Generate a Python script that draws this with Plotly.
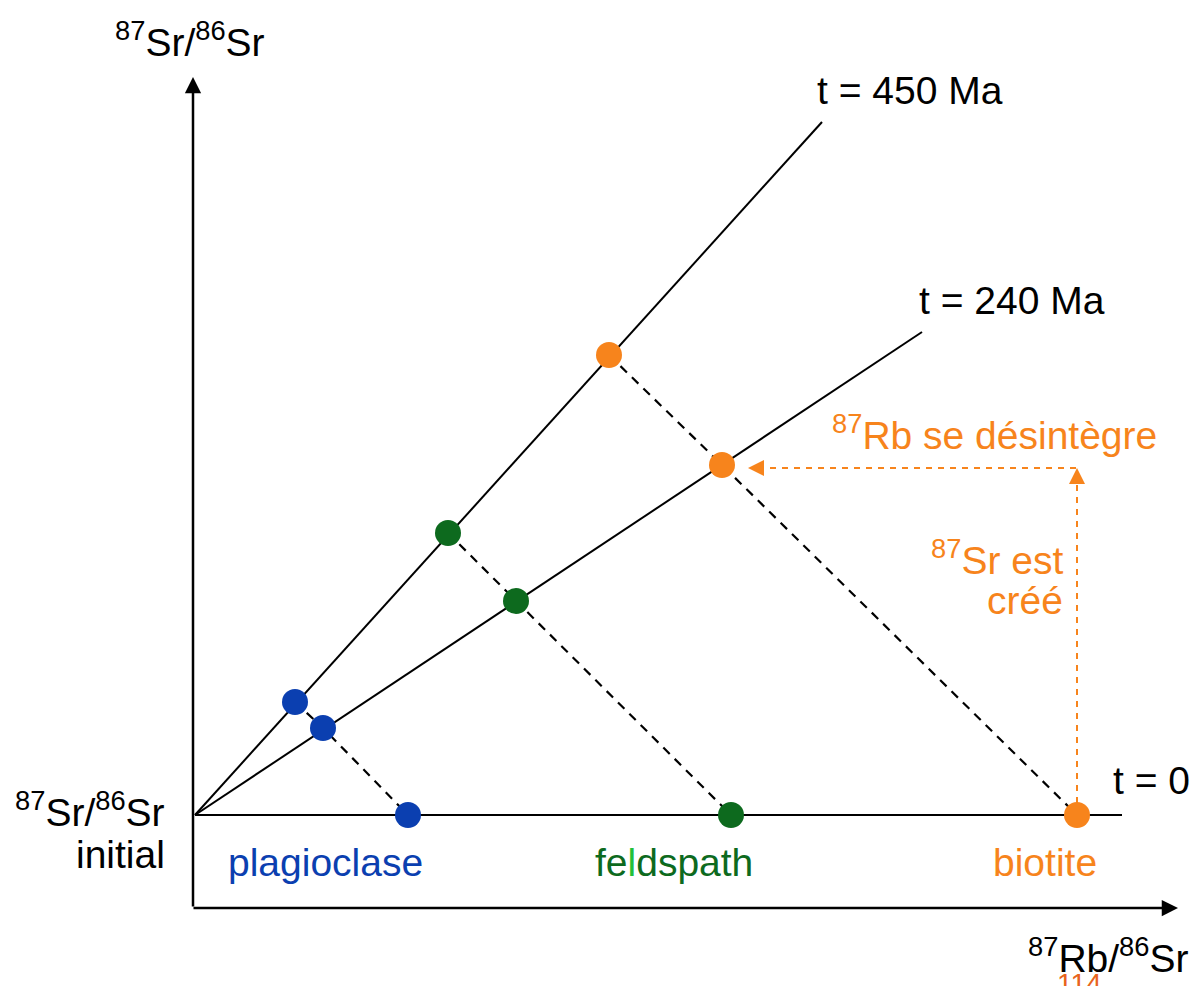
import plotly.graph_objects as go

# minerals, positions (arbitrary ratio units)
MINERALS = ["plagioclase", "feldspath", "biotite"]
COLORS = ["#0b3fb0", "#0d6a1e", "#f7841c"]

RB_T0 = [2.13, 5.36, 8.82]
SR_T0 = [0.0, 0.0, 0.0]
RB_240 = [1.28, 3.21, 5.27]
SR_240 = [0.87, 2.14, 3.50]
RB_450 = [1.00, 2.53, 4.14]
SR_450 = [1.13, 2.82, 4.60]

# isochrons start from the initial ratio
ISO_LABELS = ["t = 450 Ma", "t = 240 Ma", "t = 0"]
ISO_X = [[0.0, 6.27], [0.0, 7.27], [0.0, 9.27]]
ISO_Y = [[0.0, 6.93], [0.0, 4.83], [0.0, 0.0]]

FONT = "Liberation Sans, Arial, sans-serif"
ORANGE = "#f7841c"

fig = go.Figure()

for i in range(len(ISO_X)):
    fig.add_trace(go.Scatter(x=ISO_X[i], y=ISO_Y[i], mode="lines",
                             line=dict(color="black", width=2), hoverinfo="skip"))

# dashed paths of each mineral through time
for i in range(len(MINERALS)):
    fig.add_trace(go.Scatter(x=[RB_450[i], RB_240[i], RB_T0[i]],
                             y=[SR_450[i], SR_240[i], SR_T0[i]],
                             mode="lines",
                             line=dict(color="black", width=2.2, dash="9px,7px"),
                             hoverinfo="skip"))

# orange decay arrows for biotite
fig.add_trace(go.Scatter(x=[RB_T0[2], RB_T0[2], RB_240[2] + 0.35],
                         y=[SR_T0[2] + 0.12, SR_240[2] - 0.03, SR_240[2] - 0.03],
                         mode="lines",
                         line=dict(color=ORANGE, width=2, dash="6px,6px"),
                         hoverinfo="skip"))

for i in range(len(MINERALS)):
    fig.add_trace(go.Scatter(x=[RB_T0[i], RB_240[i], RB_450[i]],
                             y=[SR_T0[i], SR_240[i], SR_450[i]],
                             mode="markers",
                             marker=dict(color=COLORS[i], size=26),
                             name=MINERALS[i]))

ann = []
# axes with arrowheads
ann.append(dict(x=-0.02, y=7.38, ax=-0.02, ay=-0.93, xref="x", yref="y", axref="x", ayref="y",
                text="", showarrow=True, arrowhead=2, arrowsize=1.3, arrowwidth=2.5, arrowcolor="black"))
ann.append(dict(x=9.83, y=-0.93, ax=-0.03, ay=-0.93, xref="x", yref="y", axref="x", ayref="y",
                text="", showarrow=True, arrowhead=2, arrowsize=1.3, arrowwidth=2.5, arrowcolor="black"))
# orange arrowheads
ann.append(dict(x=RB_T0[2], y=3.47, ax=RB_T0[2], ay=3.35, xref="x", yref="y", axref="x", ayref="y",
                text="", showarrow=True, arrowhead=2, arrowsize=1.6, arrowwidth=2, arrowcolor=ORANGE))
ann.append(dict(x=RB_240[2] + 0.26, y=SR_240[2] - 0.03, ax=RB_240[2] + 0.40, ay=SR_240[2] - 0.03,
                xref="x", yref="y", axref="x", ayref="y", text="", showarrow=True, arrowhead=2,
                arrowsize=1.6, arrowwidth=2, arrowcolor=ORANGE))


def label(x, y, text, color="black", xanchor="left", size=39, yanchor="middle"):
    ann.append(dict(x=x, y=y, xref="x", yref="y", text=text, showarrow=False,
                    xanchor=xanchor, yanchor=yanchor, font=dict(family=FONT, size=size, color=color)))


label(-0.05, 7.76, "<sup>87</sup>Sr/<sup>86</sup>Sr", xanchor="center")
label(6.20, 7.25, ISO_LABELS[0])
label(7.22, 5.15, ISO_LABELS[1])
label(9.16, 0.35, ISO_LABELS[2])
label(-0.28, 0.06, "<sup>87</sup>Sr/<sup>86</sup>Sr", xanchor="right")
label(-0.28, -0.39, "initial", xanchor="right")
label(0.31, -0.47, MINERALS[0], color=COLORS[0])
label(3.98, -0.47, "fe<span style='color:#22c03a'>l</span>dspath", color=COLORS[1])
label(7.96, -0.47, MINERALS[2], color=ORANGE)
label(9.95, -1.40, "<sup>87</sup>Rb/<sup>86</sup>Sr", xanchor="right")
label(6.35, 3.83, "<sup>87</sup>Rb se désintègre", color=ORANGE)
label(8.70, 2.58, "<sup>87</sup>Sr est", color=ORANGE, xanchor="right")
label(8.70, 2.15, "créé", color=ORANGE, xanchor="right")
label(8.84, -1.51, "114", color="#e8641c", xanchor="center", size=28, yanchor="top")

# page body has an 8px margin, so the figure is sized to fit the window
fig.update_layout(
    width=1195, height=978,
    margin=dict(l=0, r=0, t=0, b=0),
    paper_bgcolor="white", plot_bgcolor="white",
    showlegend=False,
    xaxis=dict(range=[-1.87, 10.08], visible=False, fixedrange=True),
    yaxis=dict(range=[-1.71, 8.07], visible=False, fixedrange=True),
    annotations=ann,
)

fig.write_html("out.html")
